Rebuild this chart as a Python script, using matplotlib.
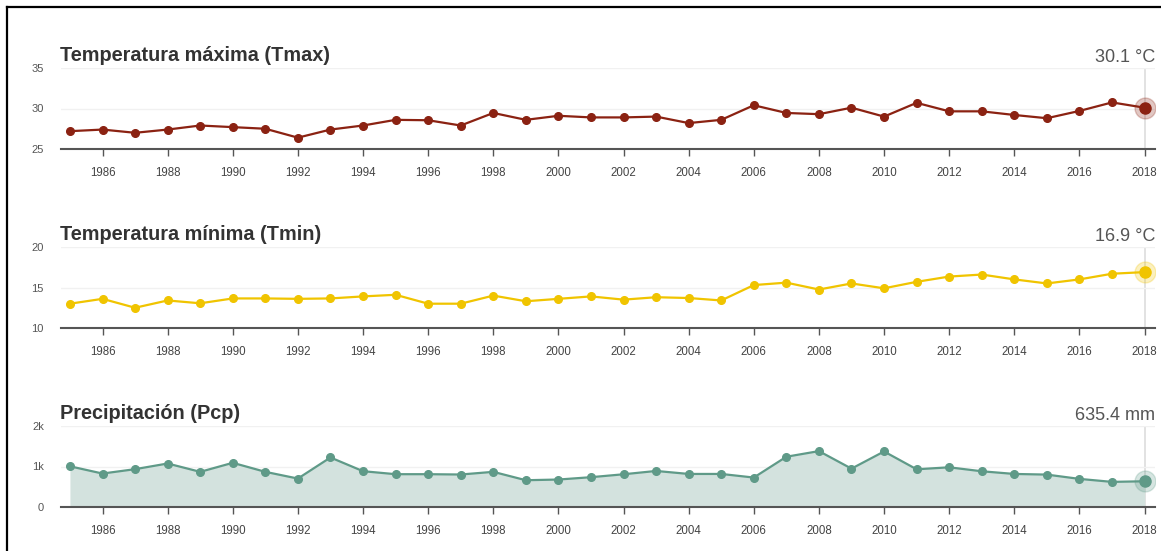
import matplotlib.pyplot as plt
import numpy as np
from matplotlib.lines import Line2D

plt.rcParams['font.family'] = ['Liberation Sans', 'DejaVu Sans']

# data
years = list(range(1985, 2019))
tmax = [27.2, 27.4, 27.0, 27.4, 27.9, 27.7, 27.5, 26.4, 27.4, 27.9, 28.6, 28.55,
        27.9, 29.45, 28.6, 29.1, 28.9, 28.9, 29.0, 28.2, 28.6, 30.4, 29.45, 29.3,
        30.1, 29.0, 30.7, 29.65, 29.65, 29.2, 28.8, 29.7, 30.75, 30.1]
tmin = [13.0, 13.6, 12.5, 13.4, 13.05, 13.65, 13.65, 13.6, 13.65, 13.9, 14.1, 13.0,
        13.0, 14.0, 13.3, 13.6, 13.9, 13.5, 13.8, 13.7, 13.4, 15.3, 15.6, 14.75,
        15.5, 14.9, 15.7, 16.35, 16.6, 16.0, 15.5, 16.0, 16.7, 16.9]
pcp = [1005, 826, 934, 1074, 868, 1091, 868, 702, 1223, 884, 810, 810,
       802, 868, 661, 678, 736, 808, 890, 816, 816, 727, 1241, 1380,
       947, 1371, 931, 980, 882, 816, 800, 694, 620, 635.4]

titles = ['Temperatura máxima (Tmax)', 'Temperatura mínima (Tmin)', 'Precipitación (Pcp)']
last_labels = ['30.1 °C', '16.9 °C', '635.4 mm']
yticks = [[25, 30, 35], [10, 15, 20], [0, 1000, 2000]]
ytick_labels = [['25', '30', '35'], ['10', '15', '20'], ['0', '1k', '2k']]
colors = ['#8b2212', '#f0c400', '#5f9a88']
xticks = list(range(1986, 2019, 2))

fig = plt.figure(figsize=(11.61, 5.51), dpi=100)

# frame lines of the screenshot
fig.add_artist(Line2D([7 / 1161, 7 / 1161], [0, 1 - 7 / 551], color='black', lw=1.6))
fig.add_artist(Line2D([7 / 1161, 1], [1 - 7 / 551, 1 - 7 / 551], color='black', lw=1.6))

bottoms = [1 - 149 / 551, 1 - 328 / 551, 1 - 507 / 551]
height = 81 / 551
left = 60.5 / 1161
width = (1155 - 60.5) / 1161
series = [tmax, tmin, pcp]

for i in range(3):
    ax = fig.add_axes([left, bottoms[i], width, height])
    vals = series[i]
    c = colors[i]
    if i == 2:
        ax.fill_between(years, 0, vals, color='#d3e2de', lw=0, zorder=1)
    ax.plot(years, vals, color=c, lw=1.6, marker='o', ms=5.5, zorder=3)
    ax.plot(years[-1], vals[-1], 'o', color=c, ms=15, alpha=0.25, zorder=2)
    ax.plot(years[-1], vals[-1], 'o', color=c, ms=8, zorder=4)
    ax.axvline(years[-1], color='#dddddd', lw=1.2, zorder=0)

    ax.set_xlim(1984.71, 2018.32)
    ax.set_ylim(yticks[i][0], yticks[i][-1])
    ax.set_yticks(yticks[i])
    ax.set_yticklabels(ytick_labels[i])
    ax.set_xticks(xticks)
    ax.set_xticklabels([str(y) for y in xticks])
    for y in yticks[i][1:]:
        ax.axhline(y, color='#f1f1f1', lw=1, zorder=0)

    for s in ['top', 'right', 'left']:
        ax.spines[s].set_visible(False)
    ax.spines['bottom'].set_color('#555555')
    ax.spines['bottom'].set_linewidth(1.5)
    ax.tick_params(axis='y', length=0, pad=12, labelsize=8, labelcolor='#555555')
    ax.tick_params(axis='x', length=5, width=1, color='#555555', pad=8,
                   labelsize=8.3, labelcolor='#444444')
    ax.set_facecolor('none')

    ax.text(0.0, 1.04, titles[i], transform=ax.transAxes, ha='left', va='bottom',
            fontsize=14.3, fontweight='bold', color='#333333')
    ax.text(1.0, 1.02, last_labels[i], transform=ax.transAxes, ha='right', va='bottom',
            fontsize=13, color='#555555')

plt.savefig('out.png', dpi=100)
